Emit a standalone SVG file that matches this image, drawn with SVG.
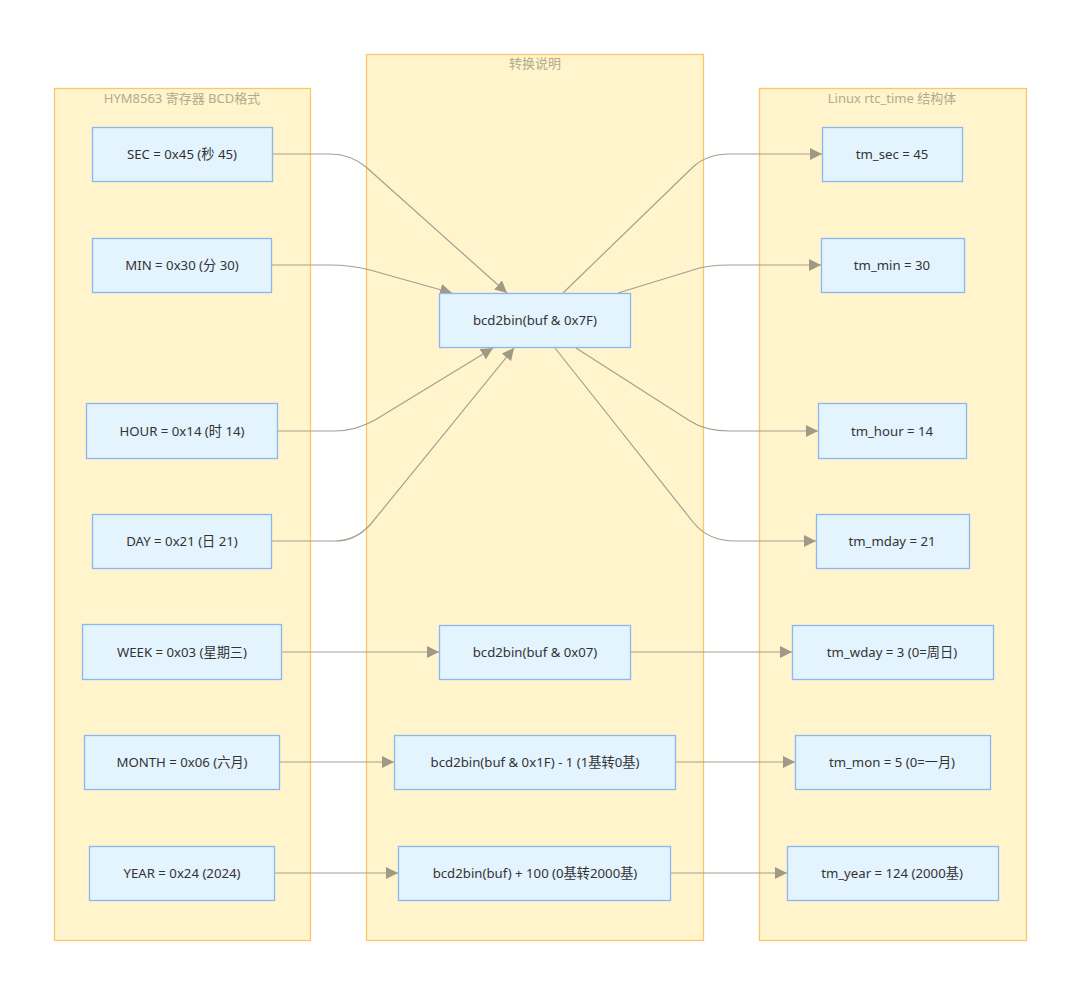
<svg xmlns="http://www.w3.org/2000/svg" width="1080" height="994" viewBox="0 0 1080 994">
<defs>
<style>
.cluster{fill:#fff4cb;stroke:#fcc76b;stroke-width:1.3}
.ctitle{font-family:"Noto Sans","Noto Sans CJK SC",sans-serif;font-size:13px;fill:#b3ab8e;text-anchor:middle}
.node rect{fill:#e3f4fe;stroke:#8db6f5;stroke-width:1.3}
.node text{font-family:"Noto Sans","Noto Sans CJK SC",sans-serif;font-size:13.2px;fill:#333;text-anchor:middle}
.edge{fill:none;stroke:#a3a090;stroke-width:1.2;marker-end:url(#arr)}
</style>
<marker id="arr" viewBox="0 0 10 10" refX="10" refY="5" markerWidth="12" markerHeight="12" markerUnits="userSpaceOnUse" orient="auto">
<path d="M0,0 L10,5 L0,10 z" fill="#9e9a86"/>
</marker>
</defs>
<rect width="1080" height="994" fill="#fff"/>
<g id="clusters">
<g id="cluster-hym"><rect class="cluster" x="54.5" y="88.5" width="256" height="852"/><text class="ctitle" x="182" y="103">HYM8563 寄存器 BCD格式</text></g>
<g id="cluster-conv"><rect class="cluster" x="366.5" y="54.5" width="337" height="886"/><text class="ctitle" x="535" y="68">转换说明</text></g>
<g id="cluster-linux"><rect class="cluster" x="759.5" y="88.5" width="267" height="852"/><text class="ctitle" x="892" y="103">Linux rtc_time 结构体</text></g>
</g>
<g id="connectors">
<path class="edge" d="M272,154 L330,154 Q350,154 366,167 L507,293"/>
<path class="edge" d="M272,265 L330,265 Q350,265 370,270 L452,293"/>
<path class="edge" d="M278,431 L335,431 Q355,431 375,420 L493,348"/>
<path class="edge" d="M272,541 L335,541 Q355,541 370,525 L514,348"/>
<path class="edge" d="M563,293 L693,167 Q707,154 730,154 L822,154"/>
<path class="edge" d="M618,293 L693,270 Q707,265 730,265 L821,265"/>
<path class="edge" d="M576,348 L690,421 Q705,431 730,431 L818,431"/>
<path class="edge" d="M555,348 L693,522 Q708,541 735,541 L816,541"/>
<path class="edge" d="M282,652 L439,652"/>
<path class="edge" d="M630,652 L792,652"/>
<path class="edge" d="M280,762 L394,762"/>
<path class="edge" d="M675,762 L795,762"/>
<path class="edge" d="M274,873 L398,873"/>
<path class="edge" d="M670,873 L787,873"/>
</g>
<g id="SEC" class="node"><rect x="92.5" y="127.5" width="180" height="54"/><text x="182" y="159">SEC = 0x45 (秒 45)</text></g>
<g id="MIN" class="node"><rect x="92.5" y="238.5" width="179" height="54"/><text x="182" y="270">MIN = 0x30 (分 30)</text></g>
<g id="HOUR" class="node"><rect x="86.5" y="403.5" width="191" height="55"/><text x="182" y="436">HOUR = 0x14 (时 14)</text></g>
<g id="DAY" class="node"><rect x="92.5" y="514.5" width="179" height="54"/><text x="182" y="546">DAY = 0x21 (日 21)</text></g>
<g id="WEEK" class="node"><rect x="82.5" y="624.5" width="199" height="55"/><text x="182" y="657">WEEK = 0x03 (星期三)</text></g>
<g id="MONTH" class="node"><rect x="84.5" y="735.5" width="195" height="54"/><text x="182" y="767">MONTH = 0x06 (六月)</text></g>
<g id="YEAR" class="node"><rect x="89.5" y="846.5" width="185" height="54"/><text x="182" y="878">YEAR = 0x24 (2024)</text></g>
<g id="CONV1" class="node"><rect x="439.5" y="293.5" width="191" height="54"/><text x="535" y="325">bcd2bin(buf &amp; 0x7F)</text></g>
<g id="CONV2" class="node"><rect x="439.5" y="625.5" width="191" height="54"/><text x="535" y="657">bcd2bin(buf &amp; 0x07)</text></g>
<g id="CONV3" class="node"><rect x="394.5" y="735.5" width="281" height="54"/><text x="535" y="767">bcd2bin(buf &amp; 0x1F) - 1 (1基转0基)</text></g>
<g id="CONV4" class="node"><rect x="398.5" y="846.5" width="272" height="54"/><text x="535" y="878">bcd2bin(buf) + 100 (0基转2000基)</text></g>
<g id="TSEC" class="node"><rect x="822.5" y="127.5" width="140" height="54"/><text x="892" y="159">tm_sec = 45</text></g>
<g id="TMIN" class="node"><rect x="821.5" y="238.5" width="143" height="54"/><text x="892" y="270">tm_min = 30</text></g>
<g id="THOUR" class="node"><rect x="818.5" y="403.5" width="148" height="55"/><text x="892" y="436">tm_hour = 14</text></g>
<g id="TMDAY" class="node"><rect x="816.5" y="514.5" width="153" height="54"/><text x="892" y="546">tm_mday = 21</text></g>
<g id="TWDAY" class="node"><rect x="792.5" y="625.5" width="201" height="54"/><text x="892" y="657">tm_wday = 3 (0=周日)</text></g>
<g id="TMON" class="node"><rect x="795.5" y="735.5" width="195" height="54"/><text x="892" y="767">tm_mon = 5 (0=一月)</text></g>
<g id="TYEAR" class="node"><rect x="787.5" y="846.5" width="211" height="54"/><text x="892" y="878">tm_year = 124 (2000基)</text></g>
</svg>
